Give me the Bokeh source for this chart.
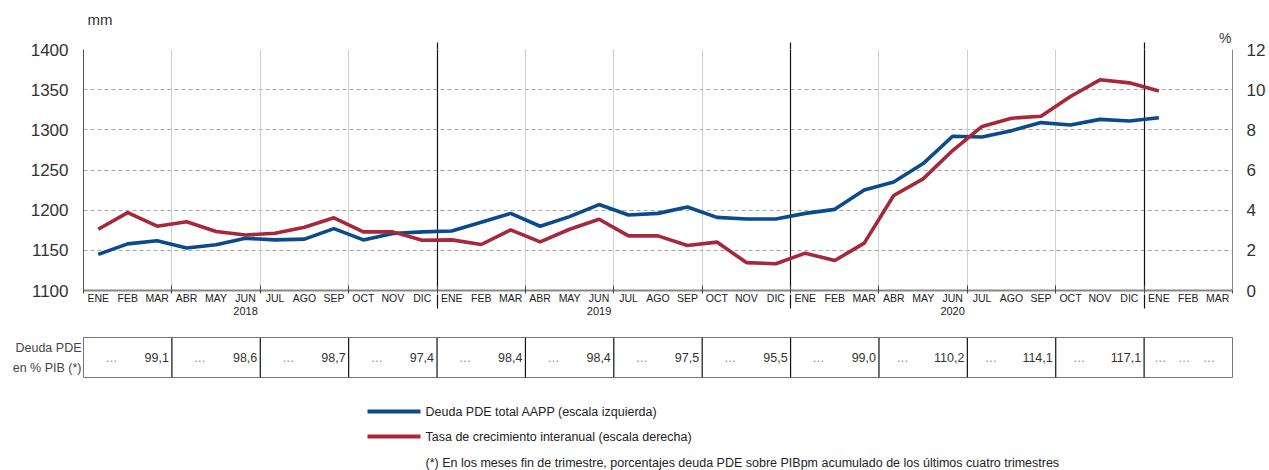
from bokeh.plotting import figure
from bokeh.models import (Range1d, LinearAxis, FixedTicker, Title, Grid)
from bokeh.layouts import column
from bokeh.embed import file_html
from bokeh.resources import INLINE
from bokeh.core.properties import value

# ---------------- data ----------------
MESES = ["ENE", "FEB", "MAR", "ABR", "MAY", "JUN", "JUL", "AGO", "SEP", "OCT", "NOV", "DIC"] * 3 + ["ENE", "FEB", "MAR"]
ANIOS = ["2018", "2019", "2020"]

# Deuda PDE total AAPP (mm, escala izquierda), ENE 2018 .. ENE 2021
deuda = [1145, 1158, 1162, 1153, 1157, 1165, 1163, 1164, 1177, 1163, 1171, 1173,
         1174, 1185, 1196, 1180, 1192, 1207, 1194, 1196, 1204, 1191, 1189, 1189,
         1196, 1201, 1225, 1235, 1258, 1292, 1291, 1299, 1309, 1306, 1313, 1311,
         1315]

# Tasa de crecimiento interanual (%, escala derecha)
tasa = [3.05, 3.88, 3.20, 3.42, 2.94, 2.76, 2.85, 3.15, 3.62, 2.92, 2.92, 2.50,
        2.52, 2.29, 3.02, 2.42, 3.05, 3.55, 2.72, 2.72, 2.24, 2.41, 1.39, 1.33,
        1.86, 1.49, 2.36, 4.73, 5.56, 6.97, 8.17, 8.58, 8.68, 9.66, 10.49, 10.34,
        9.93]

# Deuda PDE en % PIB, por trimestre (None = sin dato)
pib_trim = ["99,1", "98,6", "98,7", "97,4", "98,4", "98,4", "97,5", "95,5",
            "99,0", "110,2", "114,1", "117,1", None]

LEG_DEUDA = "Deuda PDE total AAPP (escala izquierda)"
LEG_TASA = "Tasa de crecimiento interanual (escala derecha)"
NOTA = "(*) En los meses fin de trimestre, porcentajes deuda PDE sobre PIBpm acumulado de los últimos cuatro trimestres"

# ---------------- style ----------------
BLUE = "#0b4a8b"
RED = "#a5283b"
FONT = "Liberation Sans"
TXT = "#333333"

n = len(MESES)
xs = [i + 0.5 for i in range(len(deuda))]
FW, FH = 1149, 241
LEFT, RIGHT = 83, 37
Y0, Y1 = 1100, 1400
P0, P1 = 0, 12
year_bounds = [12, 24, 36]

xr = Range1d(0, n)

p = figure(frame_width=FW, frame_height=FH, x_range=xr, y_range=Range1d(Y0, Y1),
           min_border_left=LEFT, min_border_top=49, min_border_right=RIGHT, min_border_bottom=36,
           x_axis_location=None, y_axis_location=None,
           output_backend="svg", toolbar_location=None)
p.grid.visible = False
p.extra_y_ranges = {"pct": Range1d(P0, P1)}
p.outline_line_color = None


def bare(ax):
    ax.major_tick_in = 0
    ax.major_tick_out = 0
    ax.major_tick_line_color = None
    ax.minor_tick_line_color = None
    return ax


# left axis
yl = bare(LinearAxis(ticker=FixedTicker(ticks=list(range(Y0, Y1 + 1, 50)))))
yl.axis_line_color = "#555555"
yl.major_label_text_font = FONT
yl.major_label_text_font_size = "17px"
yl.major_label_text_color = TXT
yl.major_label_standoff = 15
p.add_layout(yl, "left")

# right axis
yr = bare(LinearAxis(y_range_name="pct", ticker=FixedTicker(ticks=list(range(P0, P1 + 1, 2)))))
yr.axis_line_color = "#888888"
yr.major_label_text_font = FONT
yr.major_label_text_font_size = "17px"
yr.major_label_text_color = TXT
yr.major_label_standoff = 14
p.add_layout(yr, "right")

# month axis (quarter ticks as minor ticks)
xa = bare(LinearAxis(ticker=FixedTicker(ticks=[i + 0.5 for i in range(n)],
                                        minor_ticks=list(range(0, n + 1, 3)))))
xa.major_label_overrides = {i + 0.5: m for i, m in enumerate(MESES)}
xa.axis_line_color = "#888888"
xa.axis_line_width = 2
xa.minor_tick_line_color = "#444444"
xa.minor_tick_in = 5
xa.minor_tick_out = 3
xa.major_label_text_font = FONT
xa.major_label_text_font_size = "10.5px"
xa.major_label_text_color = "#222222"
xa.major_label_standoff = -2
p.add_layout(xa, "below")

# year axis (its minor ticks continue the year separators down through the month row)
ya = bare(LinearAxis(ticker=FixedTicker(ticks=[12 * k + 5.5 for k in range(len(ANIOS))],
                                        minor_ticks=year_bounds)))
ya.major_label_overrides = {12 * k + 5.5: a for k, a in enumerate(ANIOS)}
ya.axis_line_color = None
ya.minor_tick_line_color = "#111111"
ya.minor_tick_line_width = 1.2
ya.minor_tick_in = 12
ya.minor_tick_out = 2
ya.major_label_text_font = FONT
ya.major_label_text_font_size = "11px"
ya.major_label_text_color = "#222222"
ya.major_label_standoff = -2
p.add_layout(ya, "below")

# top axis: stubs of year separators + "%" unit
ta = bare(LinearAxis(ticker=FixedTicker(ticks=[38.75], minor_ticks=year_bounds)))
ta.major_label_overrides = {38.75: "%"}
ta.axis_line_color = None
ta.minor_tick_line_color = "#111111"
ta.minor_tick_line_width = 1.2
ta.minor_tick_in = 0
ta.minor_tick_out = 7
ta.major_label_text_font = FONT
ta.major_label_text_font_size = "14px"
ta.major_label_text_color = TXT
ta.major_label_standoff = -3
p.add_layout(ta, "above")

# "mm" unit
p.add_layout(Title(text="mm", align="left", offset=4, standoff=-3, text_font=FONT,
                   text_font_size="15px", text_font_style="normal", text_color=TXT), "above")

# grids
p.add_layout(Grid(dimension=1, ticker=yl.ticker, grid_line_color="#a8a8a8",
                  grid_line_dash="4 3", grid_line_width=1))
p.add_layout(Grid(dimension=0, ticker=FixedTicker(ticks=[q for q in range(3, n, 3) if q not in year_bounds]),
                  grid_line_color="#cfcfcf", grid_line_width=1))
p.add_layout(Grid(dimension=0, ticker=FixedTicker(ticks=year_bounds),
                  grid_line_color="#111111", grid_line_width=1.2))

# series
p.line(xs, deuda, line_color=BLUE, line_width=3.6)
p.line(xs, tasa, y_range_name="pct", line_color=RED, line_width=3.6)

# ---------------- table ----------------
t = figure(frame_width=FW, frame_height=40, x_range=xr, y_range=Range1d(0, 1),
           min_border_left=LEFT, min_border_right=RIGHT, min_border_top=11, min_border_bottom=7,
           x_axis_location=None, y_axis_location=None,
           output_backend="svg", toolbar_location=None)
t.grid.visible = False
t.outline_line_color = "#777777"
seps = [q for q in range(3, n, 3)]
t.segment(x0=seps, y0=[0] * len(seps), x1=seps, y1=[1] * len(seps),
          line_color="#111111", line_width=1.2)

val_x, val_t, dot_x = [], [], []
for k, v in enumerate(pib_trim):
    if v is None:
        dot_x += [3 * k + 0.55, 3 * k + 1.35, 3 * k + 2.2]
    else:
        val_x.append(3 * k + 3)
        val_t.append(v)
        dot_x.append(3 * k + (0.95 if len(v) <= 4 else 0.8))
t.text(x=val_x, y=[0.5] * len(val_x), text=val_t, x_offset=-3, text_align="right",
       text_baseline="middle", text_font=value(FONT), text_font_size="12.5px", text_color=TXT)
t.text(x=dot_x, y=[0.5] * len(dot_x), text=["…"] * len(dot_x), text_align="center",
       text_baseline="middle", text_font=value(FONT), text_font_size="12px", text_color="#8a8a8a")

tl = bare(LinearAxis(ticker=FixedTicker(ticks=[0.75, 0.25])))
tl.major_label_overrides = {0.75: "Deuda PDE", 0.25: "en % PIB (*)"}
tl.axis_line_color = None
tl.major_label_text_font = FONT
tl.major_label_text_font_size = "12.5px"
tl.major_label_text_color = "#444444"
tl.major_label_standoff = 2
t.add_layout(tl, "left")

# ---------------- legend ----------------
GH = 86
g = figure(frame_width=FW, frame_height=GH, x_range=Range1d(LEFT, LEFT + FW), y_range=Range1d(0, GH),
           min_border_left=LEFT, min_border_right=RIGHT, min_border_top=0, min_border_bottom=0,
           x_axis_location=None, y_axis_location=None,
           output_backend="svg", toolbar_location=None)
g.grid.visible = False
g.outline_line_color = None
leg_y = [GH - 27, GH - 52]
g.segment(x0=[367, 367], y0=leg_y, x1=[420, 420], y1=leg_y,
          line_color=[BLUE, RED], line_width=4)
g.text(x=[425, 425, 425], y=leg_y + [8], text=[LEG_DEUDA, LEG_TASA, NOTA],
       text_align="left", text_baseline="middle", text_font=value(FONT),
       text_font_size="12.5px", text_color="#222222")

layout = column(p, t, g, spacing=0)
open("out.html", "w").write(file_html(layout, INLINE))
